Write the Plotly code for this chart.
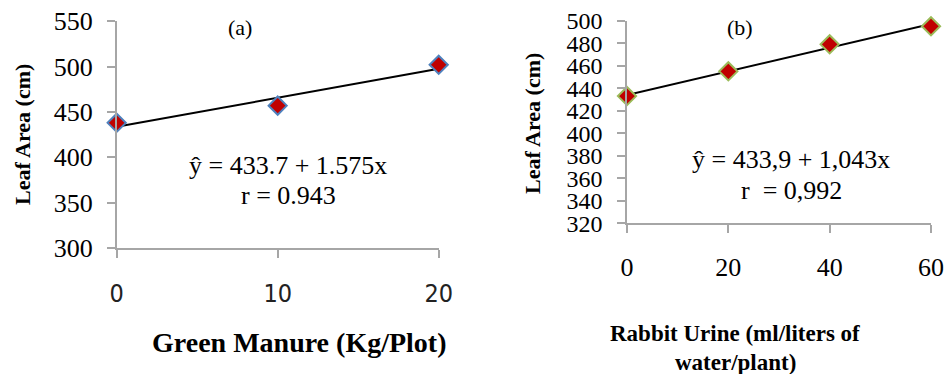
import numpy as np
import plotly.graph_objects as go

# Panel (a)
gm_x = [0, 10, 20]
gm_y = [438, 457, 502]
# Panel (b)
ru_x = [0, 20, 40, 60]
ru_y = [433, 455, 479, 495]

W, H = 946, 374
def px(x):
    return x / W
def py(y):
    return 1 - y / H

fig = go.Figure()

def add_panel(xs, ys, xa, ya, outline):
    c = np.polyfit(xs, ys, 1)
    lx = [min(xs), max(xs)]
    ly = [c[1] + c[0] * v for v in lx]
    fig.add_trace(go.Scatter(x=lx, y=ly, mode="lines", line=dict(color="black", width=2),
                             xaxis=xa, yaxis=ya, showlegend=False, cliponaxis=False, hoverinfo="skip"))
    fig.add_trace(go.Scatter(x=xs, y=ys, mode="markers",
                             marker=dict(symbol="diamond", size=14, color="#C00000",
                                         line=dict(color=outline, width=2)),
                             xaxis=xa, yaxis=ya, showlegend=False, cliponaxis=False))

add_panel(gm_x, gm_y, "x", "y", "#4F81BD")
add_panel(ru_x, ru_y, "x2", "y2", "#9BBB59")

axcol = "#A6A6A6"
serif = "Liberation Serif, Times New Roman, serif"
narrow = "Liberation Sans Narrow, Arial Narrow, DejaVu Sans Condensed, sans-serif"
common = dict(showline=True, linecolor=axcol, linewidth=1.5, ticks="outside", ticklen=8,
              tickcolor=axcol, tickwidth=1.5, showgrid=False, zeroline=False, automargin=False)

fig.update_layout(
    width=W, height=H, margin=dict(l=0, r=0, t=0, b=0),
    paper_bgcolor="white", plot_bgcolor="white",
    xaxis=dict(domain=[px(116.7), px(438.7)], range=[0, 20], tickvals=gm_x,
               tickfont=dict(family=narrow, size=25, color="#222222"),
               ticklabelstandoff=14, anchor="y", **common),
    yaxis=dict(domain=[py(248), py(21.3)], range=[300, 550], dtick=50,
               tickfont=dict(family=serif, size=26, color="black"),
               ticklabelstandoff=9, anchor="x", **common),
    xaxis2=dict(domain=[px(627), px(931)], range=[0, 60], tickvals=ru_x,
                tickfont=dict(family=serif, size=26, color="black"),
                ticklabelstandoff=12, anchor="y2", **common),
    yaxis2=dict(domain=[py(223.3), py(20.7)], range=[320, 500], dtick=20,
                tickfont=dict(family=serif, size=24, color="black"),
                ticklabelstandoff=10, anchor="x2", **common),
)

def ann(text, x, y, size, bold=False, angle=0):
    t = f"<b>{text}</b>" if bold else text
    fig.add_annotation(text=t, x=px(x), y=py(y), xref="paper", yref="paper",
                       showarrow=False, textangle=angle, xanchor="center", yanchor="middle",
                       font=dict(family=serif, size=size, color="black"))

ann("(a)", 240, 28, 22)
ann("ŷ = 433.7 + 1.575x", 288, 165, 26)
ann("r = 0.943", 288, 195, 26)
ann("Leaf Area (cm)", 22, 135, 22, bold=True, angle=-90)
ann("Green Manure (Kg/Plot)", 299, 342, 28, bold=True)

ann("(b)", 740, 28, 22)
ann("ŷ = 433,9 + 1,043x", 791, 160, 26)
ann("r  = 0,992", 791, 190, 26)
ann("Leaf Area (cm)", 532, 124, 22, bold=True, angle=-90)
ann("Rabbit Urine (ml/liters of", 735, 333, 23, bold=True)
ann("water/plant)", 735, 362, 23, bold=True)

fig.write_html("out.html", config={"displayModeBar": False},
               post_script="document.body.style.margin='0';document.body.style.overflow='hidden';")
